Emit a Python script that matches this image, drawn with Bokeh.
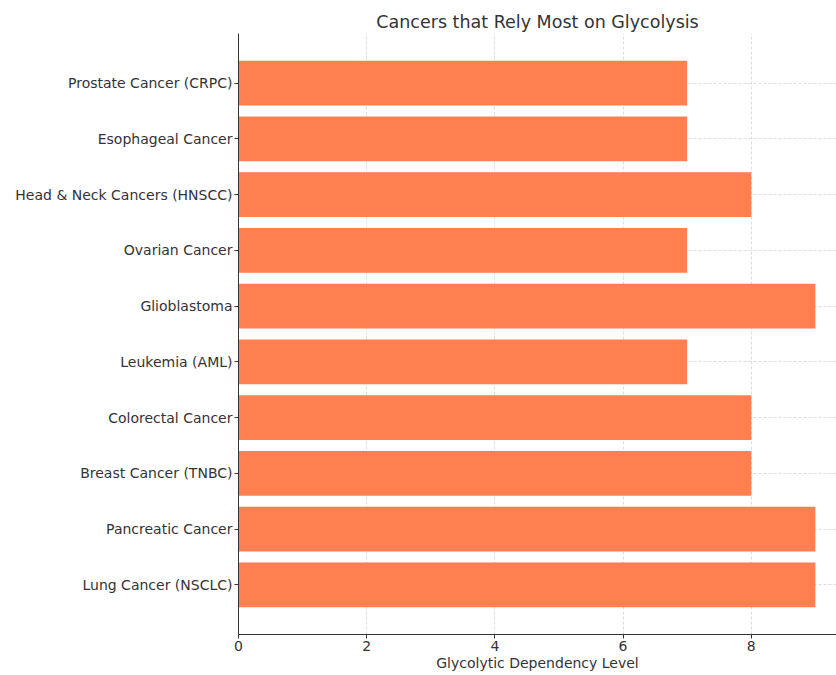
from bokeh.plotting import figure
from bokeh.models import Range1d, FixedTicker, Title
from bokeh.embed import file_html
from bokeh.resources import INLINE

cancers = ["Lung Cancer (NSCLC)", "Pancreatic Cancer", "Breast Cancer (TNBC)",
           "Colorectal Cancer", "Leukemia (AML)", "Glioblastoma", "Ovarian Cancer",
           "Head & Neck Cancers (HNSCC)", "Esophageal Cancer", "Prostate Cancer (CRPC)"]
levels = [9, 9, 8, 8, 7, 9, 7, 8, 7, 7]
x_ticks = [0, 2, 4, 6, 8]

positions = list(range(len(cancers)))

FONT = "DejaVu Sans"
TXT = "#333333"

p = figure(width=836, height=675, output_backend="svg", toolbar_location=None,
           x_range=Range1d(0, 9.33), y_range=Range1d(-0.89, len(cancers) - 1 + 0.89),
           min_border_left=238, min_border_right=0, min_border_top=33, min_border_bottom=41)

p.hbar(y=positions, right=levels, left=0, height=0.8, color="#FF7F50", line_color=None)

p.title = Title(text="Cancers that Rely Most on Glycolysis", align="center",
                text_font=FONT, text_font_size="17.5px", text_color=TXT,
                text_font_style="normal", standoff=4)

p.xaxis.ticker = FixedTicker(ticks=x_ticks)
p.yaxis.ticker = FixedTicker(ticks=positions)
p.yaxis.major_label_overrides = {i: c for i, c in enumerate(cancers)}
p.xaxis.axis_label = "Glycolytic Dependency Level"

for ax in (p.xaxis[0], p.yaxis[0]):
    ax.major_label_text_font = FONT
    ax.major_label_text_font_size = "14px"
    ax.major_label_text_color = TXT
    ax.axis_label_text_font = FONT
    ax.axis_label_text_font_size = "14px"
    ax.axis_label_text_font_style = "normal"
    ax.axis_label_text_color = TXT
    ax.axis_line_color = "#333333"
    ax.major_tick_line_color = "#333333"
    ax.major_tick_out = 4
    ax.major_tick_in = 0
    ax.minor_tick_line_color = None
    ax.major_label_standoff = 2
p.xaxis.axis_label_standoff = 1

p.xgrid.grid_line_color = "#dddddd"
p.xgrid.grid_line_dash = "3 2"
p.ygrid.grid_line_color = "#dddddd"
p.ygrid.grid_line_dash = "3 2"
p.outline_line_color = None

open("out.html", "w").write(file_html(p, INLINE))
